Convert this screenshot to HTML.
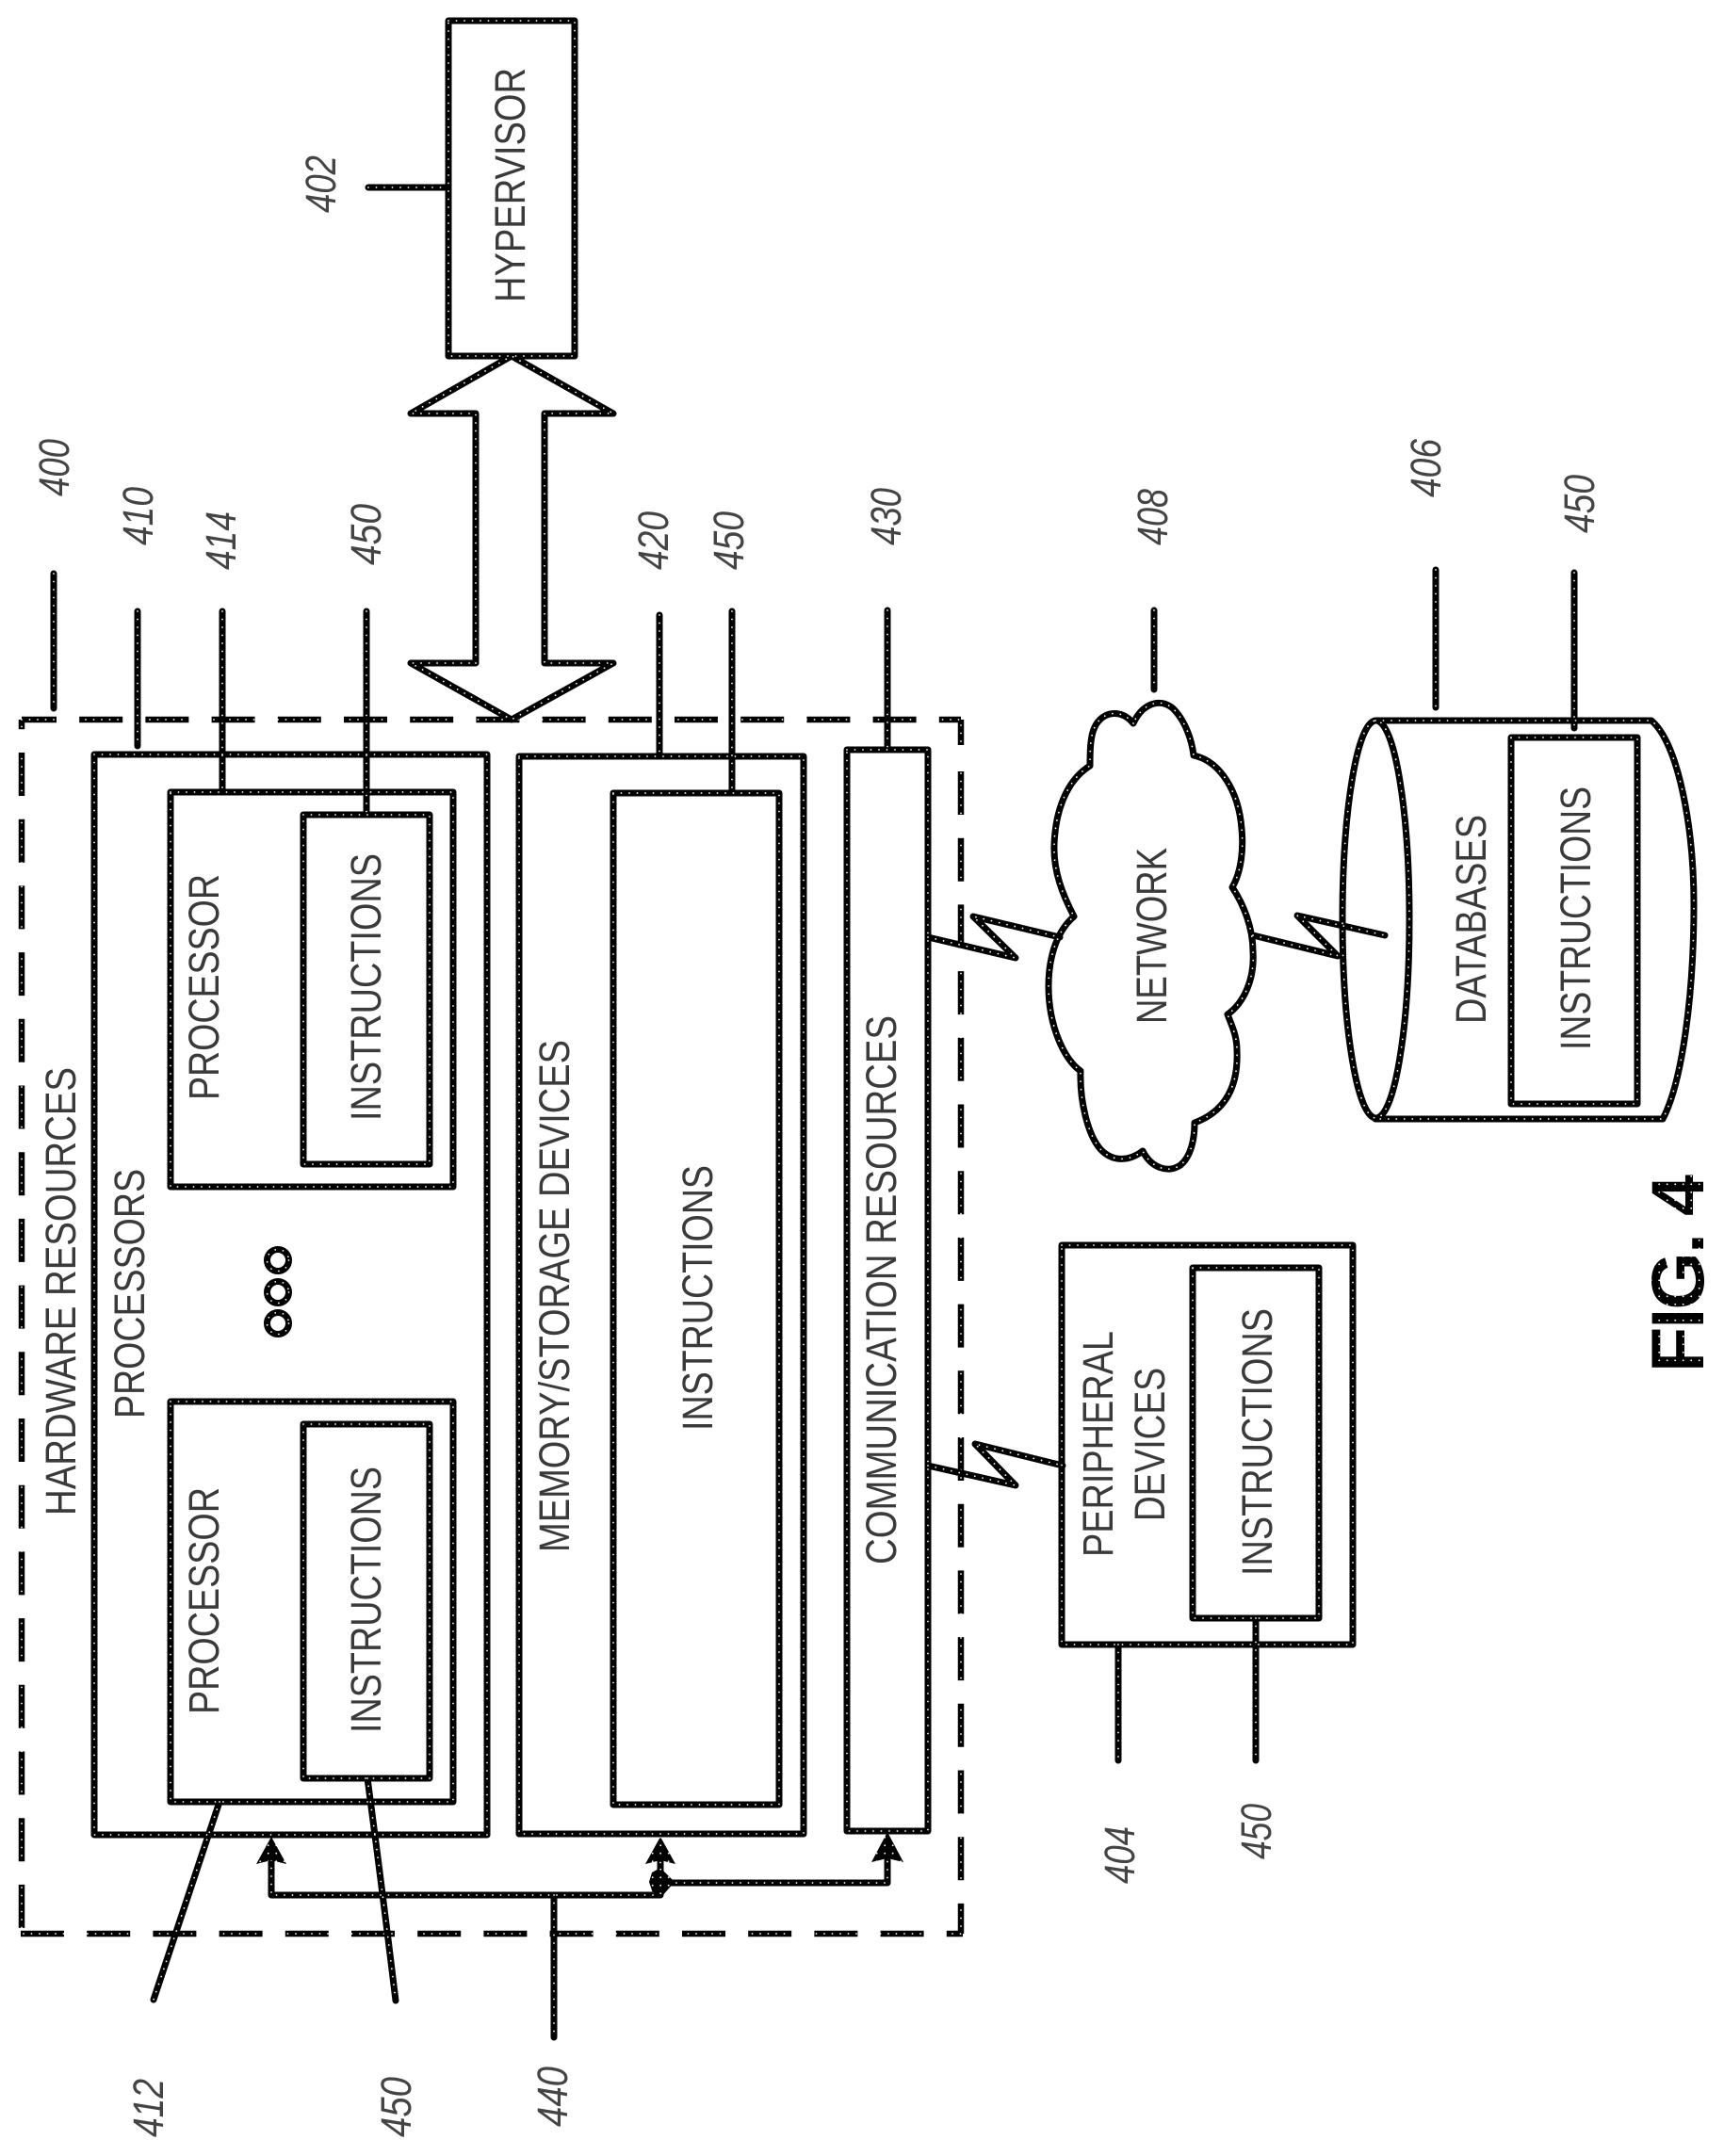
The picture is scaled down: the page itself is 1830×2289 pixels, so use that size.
<!DOCTYPE html>
<html>
<head>
<meta charset="utf-8">
<style>
html,body{margin:0;padding:0;background:#fff;width:1830px;height:2289px;overflow:hidden}
svg{display:block}
text{font-family:"Liberation Sans",sans-serif;fill:#3a3a3a;font-size:45px}
.n{font-style:italic;fill:#444}
text.f{font-weight:bold;font-size:79px;fill:url(#p)}
.black{fill:none;stroke:#000;stroke-width:7;stroke-linejoin:round;stroke-linecap:round}
.dots{fill:none;stroke:#fff;stroke-width:1.8;stroke-linecap:round;stroke-dasharray:0 8.5}
</style>
</head>
<body>
<svg xmlns="http://www.w3.org/2000/svg" width="1830" height="2289" viewBox="0 0 1830 2289">
<defs>
<pattern id="p" width="8.5" height="8.5" patternUnits="userSpaceOnUse">
  <rect width="8.5" height="8.5" fill="#000"/>
  <circle cx="4.2" cy="4.2" r="0.9" fill="#fff"/>
</pattern>
<g id="L">
  <!-- hypervisor -->
  <rect x="476" y="22" width="134" height="356"/>
  <path d="M391 199H476"/>
  <path d="M505 704V439H436L543 378L651 439H578V704H651L543 764L436 704Z"/>
  <!-- processors -->
  <rect x="100" y="801" width="417" height="1147"/>
  <rect x="181" y="841" width="300" height="419"/>
  <rect x="322" y="865" width="134" height="371"/>
  <rect x="181" y="1488" width="300" height="425"/>
  <rect x="322" y="1512" width="134" height="376"/>
  <!-- memory -->
  <rect x="551" y="803" width="302" height="1144"/>
  <rect x="651" y="842" width="176" height="1074"/>
  <!-- comm -->
  <rect x="899" y="796" width="86" height="1148"/>
  <!-- peripheral -->
  <rect x="1127" y="1322" width="309" height="424"/>
  <rect x="1266" y="1346" width="134" height="372"/>
  <!-- leaders -->
  <path d="M57 609V752"/>
  <path d="M146 649V792"/>
  <path d="M236 649V841"/>
  <path d="M389 649V865"/>
  <path d="M700 653V803"/>
  <path d="M777 649V842"/>
  <path d="M942 648V796"/>
  <path d="M1225 648V732"/>
  <path d="M1524 605V751"/>
  <path d="M1671 608V773"/>
  <path d="M1187 1746V1869"/>
  <path d="M1333 1718V1869"/>
  <path d="M233 1913L163 2123"/>
  <path d="M390 1888Q405 2000 420 2124"/>
  <path d="M588 2012V2163"/>
  <!-- bus -->
  <path d="M288 1975V2012H701V1975"/>
  <path d="M701 1999H942V1975"/>
  <!-- cloud -->
  <path d="M1203 768C1190 752,1170 755,1162 772C1157 782,1157 800,1157 813C1130 830,1120 865,1119 897C1118 925,1128 950,1140 973C1120 990,1113 1020,1113 1047C1113 1090,1130 1125,1147 1137C1146 1170,1155 1205,1168 1220C1182 1235,1200 1232,1213 1222C1222 1240,1240 1246,1253 1237C1264 1228,1268 1210,1268 1192C1295 1182,1315 1160,1313 1115C1313 1100,1308 1090,1303 1077C1320 1065,1332 1040,1330 1010C1330 985,1320 960,1308 942C1318 925,1320 900,1318 880C1315 840,1295 808,1267 802C1265 785,1258 765,1245 752C1230 740,1212 748,1203 768Z"/>
  <!-- cylinder -->
  <ellipse cx="1460.500" cy="976" rx="35.500" ry="211"/>
  <path d="M1460 765H1753C1782 790,1798 880,1798 960C1798 1060,1785 1150,1765 1188H1460"/>
  <rect x="1604" y="783" width="134" height="389"/>
  <!-- bolts -->
  <path d="M985 995L1078 1017L1033 973L1125 995"/>
  <path d="M1330 993L1420 1015L1377 972L1470 993"/>
  <path d="M985 1556L1078 1577L1035 1533L1128 1556"/>
  <!-- dots -->
  <circle cx="295" cy="1338" r="11.500"/>
  <circle cx="295" cy="1372" r="11.500"/>
  <circle cx="295" cy="1405" r="11.500"/>
</g>
</defs>

<!-- dashed outline -->
<g fill="none" stroke="#000" stroke-width="6.5">
  <path d="M23 764H1020" stroke-dasharray="46 24.2" stroke-dashoffset="9"/>
  <path d="M23 764V2053" stroke-dasharray="46 24.7" stroke-dashoffset="35.700"/>
  <path d="M22 2053H1022" stroke-dasharray="46 24.2"/>
  <path d="M1020 764V2053" stroke-dasharray="27 28 46 24.7 46 24.7 46 24.7 46 24.7 46 24.7 46 24.7 46 24.7 46 24.7 46 24.7 46 24.7 46 24.7 46 24.7 46 24.7 46 24.7 46 24.7 46 24.7 46 24.7 46 24.7"/>
</g>
<path class="dots" d="M23 764H1020V2053H23Z"/>

<use href="#L" class="black"/>
<use href="#L" class="dots"/>

<!-- arrowheads -->
<g fill="url(#p)">
  <path d="M288 1950L304 1979L288 1975L272 1979Z"/>
  <path d="M701 1950L717 1979L701 1975L685 1979Z"/>
  <path d="M942 1945L959 1977L942 1973L925 1977Z"/>
  <path d="M701 1983L716 1998L703 2013L693 2010L689 1998L692 1988Z"/>
</g>

<!-- block labels -->
<text transform="translate(557,321) rotate(-90)" textLength="249" lengthAdjust="spacingAndGlyphs">HYPERVISOR</text>
<text transform="translate(80,1609) rotate(-90)" textLength="476" lengthAdjust="spacingAndGlyphs">HARDWARE RESOURCES</text>
<text transform="translate(153,1506) rotate(-90)" textLength="265" lengthAdjust="spacingAndGlyphs">PROCESSORS</text>
<text transform="translate(232,1168) rotate(-90)" textLength="240" lengthAdjust="spacingAndGlyphs">PROCESSOR</text>
<text transform="translate(232,1820) rotate(-90)" textLength="241" lengthAdjust="spacingAndGlyphs">PROCESSOR</text>
<text transform="translate(404,1190) rotate(-90)" textLength="284" lengthAdjust="spacingAndGlyphs">INSTRUCTIONS</text>
<text transform="translate(404,1840) rotate(-90)" textLength="283" lengthAdjust="spacingAndGlyphs">INSTRUCTIONS</text>
<text transform="translate(604,1648) rotate(-90)" textLength="544" lengthAdjust="spacingAndGlyphs">MEMORY/STORAGE DEVICES</text>
<text transform="translate(756,1519) rotate(-90)" textLength="282" lengthAdjust="spacingAndGlyphs">INSTRUCTIONS</text>
<text transform="translate(951,1661) rotate(-90)" textLength="583" lengthAdjust="spacingAndGlyphs">COMMUNICATION RESOURCES</text>
<text transform="translate(1238,1087) rotate(-90)" textLength="187" lengthAdjust="spacingAndGlyphs">NETWORK</text>
<text transform="translate(1577,1087) rotate(-90)" textLength="222" lengthAdjust="spacingAndGlyphs">DATABASES</text>
<text transform="translate(1688,1115) rotate(-90)" textLength="280" lengthAdjust="spacingAndGlyphs">INSTRUCTIONS</text>
<text transform="translate(1181,1653) rotate(-90)" textLength="240" lengthAdjust="spacingAndGlyphs">PERIPHERAL</text>
<text transform="translate(1236,1615) rotate(-90)" textLength="163" lengthAdjust="spacingAndGlyphs">DEVICES</text>
<text transform="translate(1350,1673) rotate(-90)" textLength="284" lengthAdjust="spacingAndGlyphs">INSTRUCTIONS</text>
<text class="f" transform="translate(1808,1457) rotate(-90)" textLength="210" lengthAdjust="spacing">FIG. 4</text>

<!-- reference numerals -->
<text class="n" transform="translate(356,226) rotate(-90)" textLength="61" lengthAdjust="spacingAndGlyphs">402</text>
<text class="n" transform="translate(73,527) rotate(-90)" textLength="61" lengthAdjust="spacingAndGlyphs">400</text>
<text class="n" transform="translate(162,579) rotate(-90)" textLength="62" lengthAdjust="spacingAndGlyphs">410</text>
<text class="n" transform="translate(250,605) rotate(-90)" textLength="62" lengthAdjust="spacingAndGlyphs">414</text>
<text class="n" transform="translate(404,600) rotate(-90)" textLength="65" lengthAdjust="spacingAndGlyphs">450</text>
<text class="n" transform="translate(709,605) rotate(-90)" textLength="62" lengthAdjust="spacingAndGlyphs">420</text>
<text class="n" transform="translate(789,605) rotate(-90)" textLength="62" lengthAdjust="spacingAndGlyphs">450</text>
<text class="n" transform="translate(956,579) rotate(-90)" textLength="61" lengthAdjust="spacingAndGlyphs">430</text>
<text class="n" transform="translate(1239,579) rotate(-90)" textLength="60" lengthAdjust="spacingAndGlyphs">408</text>
<text class="n" transform="translate(1529,528) rotate(-90)" textLength="62" lengthAdjust="spacingAndGlyphs">406</text>
<text class="n" transform="translate(1692,566) rotate(-90)" textLength="62" lengthAdjust="spacingAndGlyphs">450</text>
<text class="n" transform="translate(1204,2000) rotate(-90)" textLength="61" lengthAdjust="spacingAndGlyphs">404</text>
<text class="n" transform="translate(1349,1974) rotate(-90)" textLength="59" lengthAdjust="spacingAndGlyphs">450</text>
<text class="n" transform="translate(173,2269) rotate(-90)" textLength="62" lengthAdjust="spacingAndGlyphs">412</text>
<text class="n" transform="translate(436,2269) rotate(-90)" textLength="64" lengthAdjust="spacingAndGlyphs">450</text>
<text class="n" transform="translate(602,2258) rotate(-90)" textLength="64" lengthAdjust="spacingAndGlyphs">440</text>
</svg>
</body>
</html>
